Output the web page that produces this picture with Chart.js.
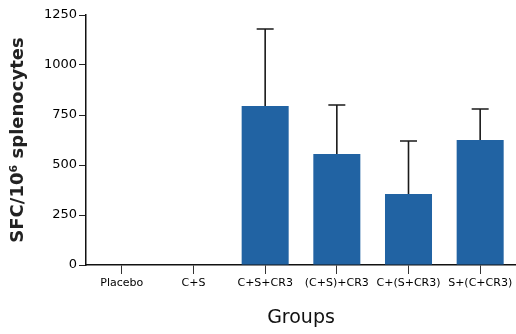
<!DOCTYPE html>
<html>
<head>
<meta charset="utf-8">
<script src="https://cdn.jsdelivr.net/npm/chart.js@4"></script>
<style>
  html, body { margin: 0; padding: 0; background: #fff; }
  #wrap { width: 516px; height: 334px; }
</style>
</head>
<body>
<div id="wrap"><canvas id="c" width="516" height="334"></canvas></div>
<script>
// Spot-forming cells per 10^6 splenocytes, by immunisation group
const groups = ['Placebo', 'C+S', 'C+S+CR3', '(C+S)+CR3', 'C+(S+CR3)', 'S+(C+CR3)'];
const meanSFC = [0, 0, 795, 555, 355, 625];
const upperSFC = [0, 0, 1180, 800, 620, 780];   // mean + SD
const yTicks = [0, 250, 500, 750, 1000, 1250];

const FONT = '"DejaVu Sans", sans-serif';

// Upper-only error bars with a cap, placed through the chart's own scales
const errorBars = {
  id: 'errorBars',
  afterDatasetsDraw(chart) {
    const meta = chart.getDatasetMeta(0);
    const yScale = chart.scales.y;
    const ctx = chart.ctx;
    ctx.save();
    ctx.strokeStyle = '#1a1a1a';
    ctx.lineWidth = 1.6;
    meta.data.forEach((bar, i) => {
      if (!meanSFC[i] || upperSFC[i] <= meanSFC[i]) return;
      const x = bar.x;
      const y0 = yScale.getPixelForValue(meanSFC[i]);
      const y1 = yScale.getPixelForValue(upperSFC[i]);
      const half = 8.5;
      ctx.beginPath();
      ctx.moveTo(x, y0);
      ctx.lineTo(x, y1);
      ctx.moveTo(x - half, y1);
      ctx.lineTo(x + half, y1);
      ctx.stroke();
    });
    ctx.restore();
  }
};

new Chart(document.getElementById('c'), {
  type: 'bar',
  data: {
    labels: groups,
    datasets: [{
      data: meanSFC,
      backgroundColor: '#2163a3',
      borderWidth: 0,
      categoryPercentage: 1,
      barPercentage: 0.656
    }]
  },
  options: {
    responsive: false,
    animation: false,
    layout: { padding: { top: 15, right: 0, left: 0, bottom: 0 } },
    plugins: { legend: { display: false }, tooltip: { enabled: false } },
    scales: {
      x: {
        offset: true,
        grid: { offset: false, drawOnChartArea: false, drawTicks: true, tickLength: 9, color: '#333', lineWidth: 1 },
        border: { display: true, color: '#111', width: 1.5 },
        ticks: { color: '#000', padding: 3, maxRotation: 0, autoSkip: false, font: { family: FONT, size: 11 } },
        title: {
          display: true, text: 'Groups', color: '#111',
          font: { family: FONT, size: 19, lineHeight: 1 },
          padding: { top: 0, bottom: 6 }
        },
        afterFit(scale) { scale.height = 69; }
      },
      y: {
        min: 0, max: 1250,
        afterBuildTicks(scale) { scale.ticks = yTicks.map(v => ({ value: v })); },
        grid: { drawOnChartArea: false, drawTicks: true, tickLength: 7, color: '#222', lineWidth: 1 },
        border: { display: true, color: '#111', width: 1.5 },
        ticks: { color: '#000', padding: 2, font: { family: FONT, size: 13 }, callback: v => String(v) },
        title: {
          display: true, text: 'SFC/10\u2076 splenocytes', color: '#222',
          font: { family: FONT, size: 18, weight: 'bold', lineHeight: 1 },
          padding: { top: 9, bottom: 0 }
        },
        afterFit(scale) { scale.width = 86; }
      }
    }
  },
  plugins: [errorBars]
});
</script>
</body>
</html>
